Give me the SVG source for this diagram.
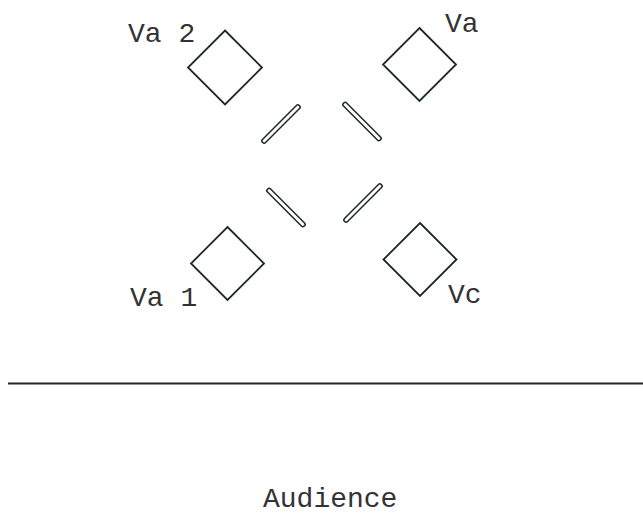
<svg xmlns="http://www.w3.org/2000/svg" width="643" height="514" viewBox="0 0 643 514">
<style>
.d{fill:none;stroke:#1c2a24;stroke-width:1.8}
.b{fill:none;stroke:#1c2a24;stroke-width:1.5}
.t{font-family:"Liberation Mono","Courier New",monospace;font-size:28px;fill:#333}
</style>
<rect width="643" height="514" fill="#fff"/>
<g id="va2"><path class="d" d="M225 30.5 L262 67.5 L225 104.5 L188 67.5 Z"/><text class="t" x="128" y="42">Va 2</text></g>
<g id="va"><path class="d" d="M419.5 28 L456 64.5 L419.5 101 L383 64.5 Z"/><text class="t" x="445" y="32">Va</text></g>
<g id="va1"><path class="d" d="M227.5 227 L264 263.5 L227.5 300 L191 263.5 Z"/><text class="t" x="130" y="306">Va 1</text></g>
<g id="vc"><path class="d" d="M420 223 L456.5 259.5 L420 296 L383.5 259.5 Z"/><text class="t" x="448" y="303">Vc</text></g>
<g id="bars">
<rect class="b" x="-26" y="-2.2" width="52" height="4.4" rx="2" transform="translate(281 124) rotate(-45)"/>
<rect class="b" x="-26" y="-2.2" width="52" height="4.4" rx="2" transform="translate(362 121.5) rotate(45)"/>
<rect class="b" x="-26" y="-2.2" width="52" height="4.4" rx="2" transform="translate(286 207.5) rotate(45)"/>
<rect class="b" x="-26" y="-2.2" width="52" height="4.4" rx="2" transform="translate(363 203) rotate(-45)"/>
</g>
<g id="stage"><line x1="8" y1="383.5" x2="643" y2="383.5" stroke="#1c2a24" stroke-width="2"/></g>
<g id="audience"><text class="t" x="263" y="507">Audience</text></g>
</svg>
